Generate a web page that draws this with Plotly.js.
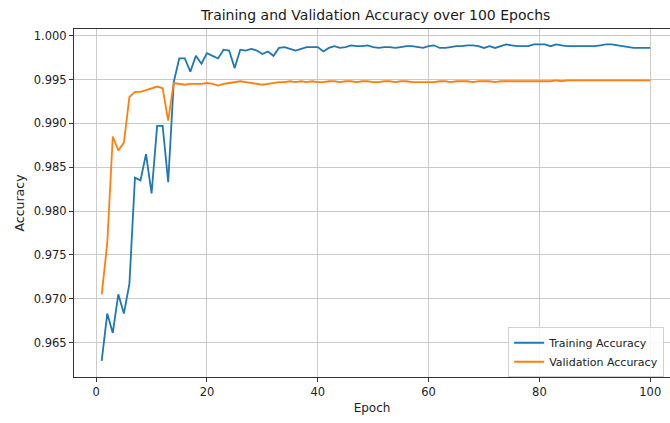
<!DOCTYPE html>
<html>
<head>
<meta charset="utf-8">
<script src="https://cdn.plot.ly/plotly-3.0.1.min.js"></script>
<style>html,body{margin:0;padding:0;background:#fff;}#chart{width:670px;height:423px;}</style>
</head>
<body>
<div id="chart"></div>
<script>
const epochs = Array.from({length: 100}, (_, i) => i + 1);

const trainingAccuracy = [
  0.9629, 0.9683, 0.9661, 0.9705, 0.9683, 0.9717, 0.9838, 0.9835, 0.9865, 0.9820,
  0.9897, 0.9897, 0.9833, 0.9947, 0.9974, 0.9974, 0.9959, 0.9977, 0.9968, 0.9980,
  0.9977, 0.9974, 0.9984, 0.9983, 0.9963, 0.9984, 0.9983, 0.9985, 0.9983, 0.9979,
  0.9982, 0.9977, 0.9986, 0.9987, 0.9985, 0.9983, 0.9985, 0.9987, 0.9987, 0.9987,
  0.9982, 0.9986, 0.9988, 0.9986, 0.9987, 0.9989, 0.9988, 0.9988, 0.9989, 0.9987,
  0.9986, 0.9987, 0.9987, 0.9986, 0.9987, 0.9988, 0.9988, 0.9987, 0.9986, 0.9988,
  0.9989, 0.9986, 0.9986, 0.9987, 0.9988, 0.9988, 0.9989, 0.9989, 0.9988, 0.9986,
  0.9988, 0.9986, 0.9988, 0.9990, 0.9989, 0.9988, 0.9988, 0.9988, 0.9990, 0.9990,
  0.9990, 0.9988, 0.9990, 0.9989, 0.9988, 0.9988, 0.9988, 0.9988, 0.9988, 0.9988,
  0.9989, 0.9990, 0.9990, 0.9989, 0.9988, 0.9987, 0.9986, 0.9986, 0.9986, 0.9986
];

const validationAccuracy = [
  0.9705, 0.9763, 0.9885, 0.9869, 0.9878, 0.9930, 0.9936, 0.9936, 0.9938, 0.9940,
  0.9942, 0.9940, 0.9903, 0.9946, 0.9945, 0.9944, 0.9945, 0.9945, 0.9945, 0.9946,
  0.9945, 0.9943, 0.9945, 0.9946, 0.9947, 0.9948, 0.9947, 0.9946, 0.9945, 0.9944,
  0.9945, 0.9946, 0.9947, 0.9947, 0.9948, 0.9947, 0.9948, 0.9947, 0.9948, 0.9947,
  0.9947, 0.9948, 0.9948, 0.9947, 0.9948, 0.9948, 0.9947, 0.9948, 0.9948, 0.9947,
  0.9947, 0.9948, 0.9948, 0.9947, 0.9948, 0.9948, 0.9947, 0.9947, 0.9947, 0.9947,
  0.9947, 0.9948, 0.9948, 0.9947, 0.9948, 0.9948, 0.9948, 0.9947, 0.9948, 0.9948,
  0.9948, 0.9947, 0.9948, 0.9948, 0.9948, 0.9948, 0.9948, 0.9948, 0.9948, 0.9948,
  0.9948, 0.9948, 0.9949, 0.9948, 0.9949, 0.9949, 0.9949, 0.9949, 0.9949, 0.9949,
  0.9949, 0.9949, 0.9949, 0.9949, 0.9949, 0.9949, 0.9949, 0.9949, 0.9949, 0.9949
];

const seriesNames = ['Training Accuracy', 'Validation Accuracy'];
const xTicks = [0, 20, 40, 60, 80, 100];
const yTicks = [0.965, 0.970, 0.975, 0.980, 0.985, 0.990, 0.995, 1.000];

const font = 'DejaVu Sans, sans-serif';

const traces = [
  {x: epochs, y: trainingAccuracy, name: seriesNames[0], type: 'scatter', mode: 'lines',
   line: {color: '#1f77b4', width: 1.8}},
  {x: epochs, y: validationAccuracy, name: seriesNames[1], type: 'scatter', mode: 'lines',
   line: {color: '#ff7f0e', width: 1.8}}
];

const layout = {
  width: 670, height: 423,
  margin: {l: 73.5, r: 0, t: 29, b: 46.3, pad: 0},
  paper_bgcolor: '#fff', plot_bgcolor: '#fff',
  font: {family: font, size: 11.5, color: '#222'},
  title: {text: 'Training and Validation Accuracy over 100 Epochs',
          font: {family: font, size: 14, color: '#1a1a1a'},
          xref: 'container', x: 375.6 / 670, xanchor: 'center',
          yref: 'container', y: 1 - 15.5 / 423, yanchor: 'middle'},
  xaxis: {
    range: [-4.0, 103.57], tickvals: xTicks, ticktext: xTicks.map(String),
    tickfont: {family: font, size: 11.5, color: '#222'},
    showgrid: true, gridcolor: '#c4c4c4', gridwidth: 0.9,
    showline: true, linecolor: '#333', linewidth: 1, mirror: true,
    ticks: 'outside', ticklen: 4, tickcolor: '#333', tickwidth: 1,
    zeroline: false,
    title: {text: 'Epoch', font: {family: font, size: 12, color: '#222'}, standoff: 5}
  },
  yaxis: {
    range: [0.96107, 1.00076], tickvals: yTicks, ticktext: yTicks.map(v => v.toFixed(3)),
    tickfont: {family: font, size: 11.5, color: '#222'},
    showgrid: true, gridcolor: '#c4c4c4', gridwidth: 0.9,
    showline: true, linecolor: '#333', linewidth: 1, mirror: false,
    ticks: 'outside', ticklen: 4, tickcolor: '#333', tickwidth: 1,
    zeroline: false,
    title: {text: 'Accuracy', font: {family: font, size: 12.5, color: '#222'}, standoff: 6}
  },
  showlegend: true,
  legend: {x: (508 - 73.5) / 596.5, xanchor: 'left', y: (376.7 - 327) / 347.7, yanchor: 'top',
           bgcolor: 'rgba(255,255,255,0.85)', bordercolor: '#d0d0d0', borderwidth: 1,
           font: {family: font, size: 11, color: '#222'}, tracegroupgap: 0}
};

Plotly.newPlot('chart', traces, layout, {displayModeBar: false, staticPlot: true});
</script>
</body>
</html>
